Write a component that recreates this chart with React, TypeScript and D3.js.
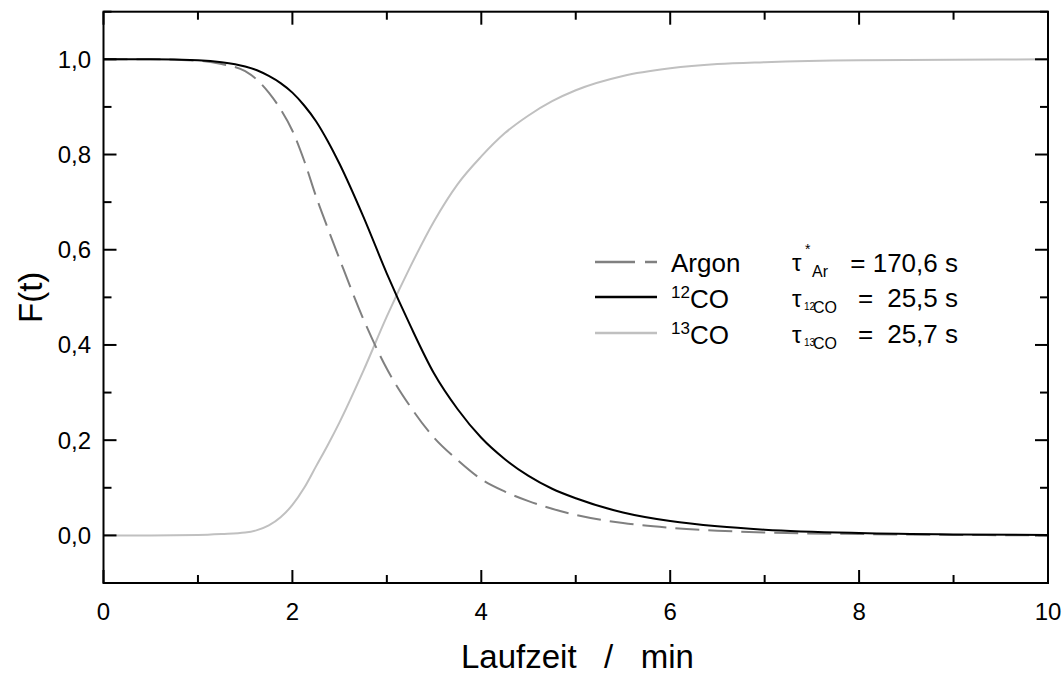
import React from "react";
import * as d3 from "d3";

const timeMin = [0, 0.5, 1.0, 1.25, 1.5, 1.625, 1.75, 1.875, 2.0, 2.125, 2.25, 2.375, 2.5, 2.75, 3.0, 3.25, 3.5, 3.75, 4.0, 4.25, 4.5, 4.75, 5.0, 5.5, 6.0, 6.5, 7.0, 8.0, 9.0, 10.0];
const argon = [1.0, 1.0, 0.997, 0.99, 0.975, 0.957, 0.93, 0.895, 0.85, 0.787, 0.712, 0.645, 0.58, 0.455, 0.35, 0.27, 0.205, 0.158, 0.118, 0.092, 0.072, 0.056, 0.043, 0.026, 0.016, 0.01, 0.006, 0.003, 0.001, 0.0];
const co12 = [1.0, 1.0, 0.998, 0.994, 0.985, 0.977, 0.965, 0.95, 0.93, 0.903, 0.87, 0.828, 0.78, 0.67, 0.55, 0.44, 0.34, 0.265, 0.205, 0.16, 0.125, 0.098, 0.078, 0.048, 0.03, 0.019, 0.012, 0.005, 0.002, 0.001];
const co13 = [0.0, 0.0, 0.001, 0.003, 0.006, 0.011, 0.021, 0.038, 0.064, 0.1, 0.145, 0.19, 0.238, 0.345, 0.46, 0.565, 0.66, 0.738, 0.796, 0.845, 0.882, 0.912, 0.935, 0.965, 0.981, 0.99, 0.994, 0.998, 0.999, 1.0];

const xMajorTicks = [0, 2, 4, 6, 8, 10];
const xMinorTicks = [1, 3, 5, 7, 9];
const yMajorTicks = [0, 0.2, 0.4, 0.6, 0.8, 1.0];
const yMinorTicks = [-0.1, 0.1, 0.3, 0.5, 0.7, 0.9, 1.1];

const W = 1063, H = 674;
const L = 103.5, R = 1048, T = 11.7, B = 583;
const FONT = "'Liberation Sans', Arial, sans-serif";

export default function App() {
  const x = d3.scaleLinear().domain([0, 10]).range([L, R]);
  const y = d3.scaleLinear().domain([-0.1, 1.1]).range([B, T]);
  const fmt = (v: number) => v.toFixed(1).replace(".", ",");
  const mk = (vals: number[]) =>
    d3.line<number>().x((_, i) => x(timeMin[i])).y((d) => y(d)).curve(d3.curveMonotoneX)(vals) || "";

  const MAJ = 13, MIN = 8;
  const legY = [262, 297, 333];
  return (
    <svg width={W} height={H} style={{ position: "absolute", left: 0, top: 0, background: "#fff" }}>
      <defs>
        <clipPath id="clip"><rect x={L} y={T} width={R - L} height={B - T} /></clipPath>
      </defs>
      <g clipPath="url(#clip)" fill="none" strokeWidth={2}>
        <path d={mk(co13)} stroke="#c0c0c0" />
        <path d={mk(argon)} stroke="#808080" strokeDasharray="24,9" />
        <path d={mk(co12)} stroke="#000" />
      </g>
      {/* ticks */}
      <g stroke="#000" strokeWidth={2}>
        {xMajorTicks.map((t) => (
          <g key={"xM" + t}>
            <line x1={x(t)} x2={x(t)} y1={B} y2={B - MAJ} />
            <line x1={x(t)} x2={x(t)} y1={T} y2={T + MAJ} />
          </g>
        ))}
        {xMinorTicks.map((t) => (
          <g key={"xm" + t}>
            <line x1={x(t)} x2={x(t)} y1={B} y2={B - MIN} />
            <line x1={x(t)} x2={x(t)} y1={T} y2={T + MIN} />
          </g>
        ))}
        {yMajorTicks.map((t) => (
          <g key={"yM" + t}>
            <line x1={L} x2={L + MAJ} y1={y(t)} y2={y(t)} />
            <line x1={R} x2={R - MAJ} y1={y(t)} y2={y(t)} />
          </g>
        ))}
        {yMinorTicks.map((t) => (
          <g key={"ym" + t}>
            <line x1={L} x2={L + MIN} y1={y(t)} y2={y(t)} />
            <line x1={R} x2={R - MIN} y1={y(t)} y2={y(t)} />
          </g>
        ))}
        <rect x={L} y={T} width={R - L} height={B - T} fill="none" />
      </g>
      {/* tick labels */}
      <g fontFamily={FONT} fontSize={24} fill="#000">
        {xMajorTicks.map((t) => (
          <text key={"xl" + t} x={x(t)} y={620} textAnchor="middle">{t}</text>
        ))}
        {yMajorTicks.map((t) => (
          <text key={"yl" + t} x={91} y={y(t) + 8.5} textAnchor="end">{fmt(t)}</text>
        ))}
      </g>
      {/* axis titles */}
      <text x={461} y={668} fontFamily={FONT} fontSize={33} xmlSpace="preserve" style={{ whiteSpace: "pre" }}>{"Laufzeit   /   min"}</text>
      <text transform={`translate(42,${(T + B) / 2}) rotate(-90)`} textAnchor="middle" fontFamily={FONT} fontSize={33}>F(t)</text>
      {/* legend */}
      <g strokeWidth={2.5} fill="none">
        <line x1={595} x2={657} y1={legY[0]} y2={legY[0]} stroke="#808080" strokeDasharray="40,10" />
        <line x1={595} x2={657} y1={legY[1]} y2={legY[1]} stroke="#000" />
        <line x1={595} x2={657} y1={legY[2]} y2={legY[2]} stroke="#c0c0c0" />
      </g>
      <g fontFamily={FONT} fontSize={26} fill="#000">
        <text x={671} y={272}>Argon</text>
        <text x={671} y={308}>
          <tspan fontSize={17} dy={-10}>12</tspan>
          <tspan dy={10}>CO</tspan>
        </text>
        <text x={671} y={344}>
          <tspan fontSize={17} dy={-10}>13</tspan>
          <tspan dy={10}>CO</tspan>
        </text>
        {/* tau column */}
        <text x={792} y={271} fontSize={24}>τ</text>
        <text x={805} y={254} fontSize={14}>*</text>
        <text x={812} y={277} fontSize={16}>Ar</text>
        <text x={958} y={272} textAnchor="end">= 170,6 s</text>

        <text x={792} y={307} fontSize={24}>τ</text>
        <text x={804} y={310} fontSize={10}>12</text>
        <text x={813} y={313} fontSize={16}>CO</text>
        <text x={858} y={307}>=</text>
        <text x={958} y={307} textAnchor="end">25,5 s</text>

        <text x={792} y={343} fontSize={24}>τ</text>
        <text x={804} y={346} fontSize={10}>13</text>
        <text x={813} y={349} fontSize={16}>CO</text>
        <text x={858} y={343}>=</text>
        <text x={958} y={343} textAnchor="end">25,7 s</text>
      </g>
    </svg>
  );
}
